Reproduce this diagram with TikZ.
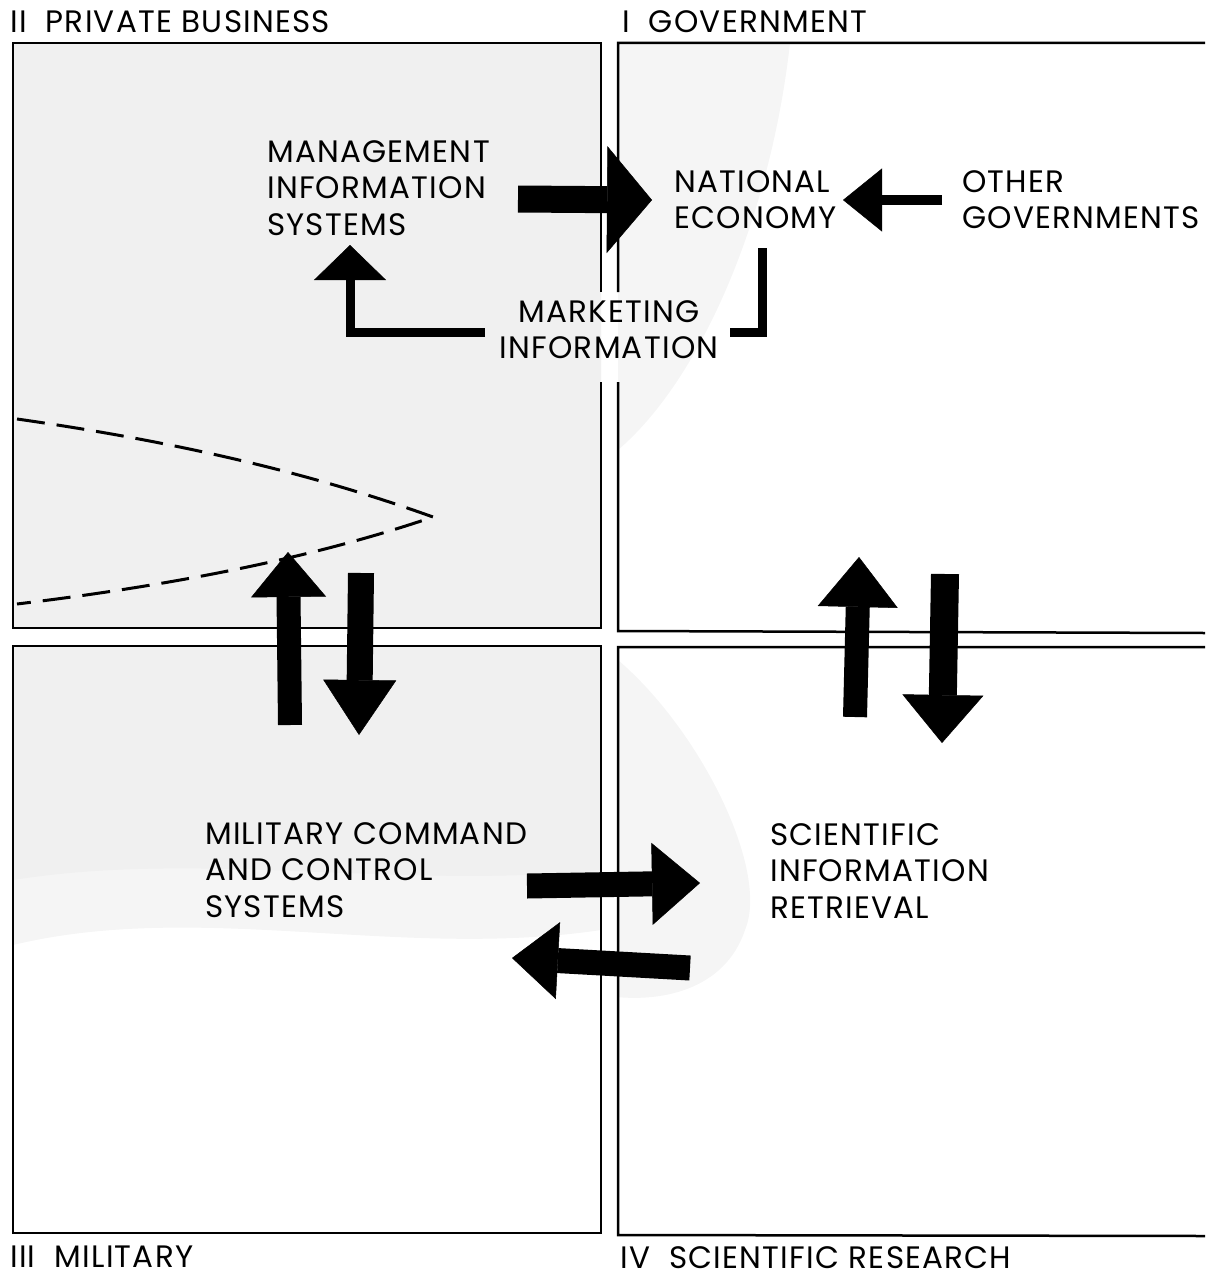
\documentclass[tikz,border=0pt]{standalone}
\usepackage{fontspec}
\setmainfont{Poppins}[LetterSpace=4]
\usetikzlibrary{arrows.meta}

\begin{document}
\begin{tikzpicture}[x=1pt,y=-1pt,
    lbl/.style={inner sep=0pt,anchor=north west,align=left,font=\fontsize{31}{36.5}\selectfont},
    box/.style={line width=2.5pt},
    blk/.style n args={3}{line width=#1,-{Triangle[width=#2,length=#3,line width=0.5pt]}}]
  \useasboundingbox (0,0) rectangle (1205,1279);
  \begin{scope}
    \clip (13,43) rectangle (601,628) (618,43) rectangle (1205,631)
      (13,646) rectangle (601,1233) (618,647) rectangle (1205,1235);
    \fill[black!4] (13,43) -- (790,43) .. controls (770,220) and (700,380) .. (618,450)
      -- (618,660) .. controls (700,730) and (770,870) .. (745,930)
      .. controls (725,990) and (660,1005) .. (601,995) -- (601,930)
      .. controls (400,960) and (200,900) .. (13,945) -- cycle;
    \fill[black!6] (13,43) -- (601,43) -- (601,870)
      .. controls (400,890) and (200,850) .. (13,880) -- cycle;
  \end{scope}
  \draw[box] (601,292) -- (601,43) -- (13,43) -- (13,628) -- (601,628) -- (601,382);
  \draw[box] (1205,43) -- (618,43) -- (618,292) (618,382) -- (618,631) -- (1205,633);
  \draw[box] (13,646) rectangle (601,1233);
  \draw[box] (1205,647) -- (618,647) -- (618,1235) -- (1205,1236);
  \draw[line width=3pt,dash pattern=on 28pt off 12pt] (17,419) .. controls (200,445) and (330,480) .. (433,517)
    .. controls (330,552) and (200,582) .. (17,604);
  \node[lbl] (T2) at (10,10) {II\ \ PRIVATE BUSINESS};
  \node[lbl] (T1) at (622,10) {I\ \ GOVERNMENT};
  \node[lbl] (T3) at (10,1246) {III\ \ MILITARY};
  \node[lbl] (T4) at (620,1246) {IV\ \ SCIENTIFIC RESEARCH};
  \node[lbl] (MIS) at (267,140) {MANAGEMENT\\INFORMATION\\SYSTEMS};
  \node[lbl] (NE) at (674,170) {NATIONAL\\ECONOMY};
  \node[lbl] (OG) at (962,170) {OTHER\\GOVERNMENTS};
  \node[lbl,anchor=north,align=center] (MI) at (609,300) {MARKETING\\INFORMATION};
  \node[lbl] (MC) at (205,822) {MILITARY COMMAND\\AND CONTROL\\SYSTEMS};
  \node[lbl] (SI) at (770,823) {SCIENTIFIC\\INFORMATION\\RETRIEVAL};
  \coordinate (a1) at (518,199); \coordinate (b1) at (652,200);
  \coordinate (a2) at (942,200); \coordinate (b2) at (843,200);
  \coordinate (a3) at (485,332); \coordinate (c3) at (350,332); \coordinate (b3) at (350,245);
  \coordinate (d1) at (762,248); \coordinate (d2) at (730,332);
  \coordinate (a4) at (290,725); \coordinate (b4) at (288,552);
  \coordinate (a5) at (361,573); \coordinate (b5) at (359,735);
  \coordinate (a6) at (855,717); \coordinate (b6) at (859,557);
  \coordinate (a7) at (945,574); \coordinate (b7) at (942,743);
  \coordinate (a8) at (527,886); \coordinate (b8) at (700,883);
  \coordinate (a9) at (690,968); \coordinate (b9) at (512,958);
  \draw[blk={27pt}{107pt}{45pt}] (a1) -- (b1);
  \draw[blk={10pt}{63pt}{39pt}] (a2) -- (b2);
  \draw[blk={9pt}{72pt}{35pt}] (a3) -- (c3) -- (b3);
  \draw[line width=9pt] (d1) |- (d2);
  \draw[blk={24pt}{75pt}{45pt}] (a4) -- (b4);
  \draw[blk={26pt}{73pt}{55pt}] (a5) -- (b5);
  \draw[blk={24pt}{80pt}{50pt}] (a6) -- (b6);
  \draw[blk={28pt}{81pt}{48pt}] (a7) -- (b7);
  \draw[blk={25pt}{82pt}{48pt}] (a8) -- (b8);
  \draw[blk={25pt}{77pt}{46pt}] (a9) -- (b9);
\end{tikzpicture}
\end{document}
